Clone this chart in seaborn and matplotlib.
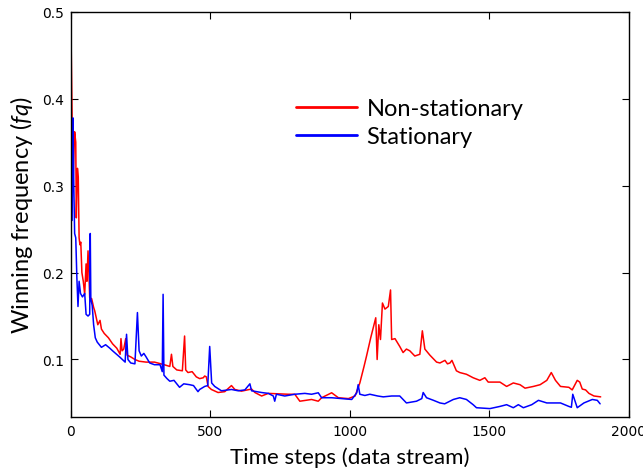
import numpy as np
import pandas as pd
import matplotlib
matplotlib.use("Agg")
import matplotlib.pyplot as plt
import seaborn as sns

# ---- data ----
t_nonstat = [0, 4, 8, 12, 14, 18, 20, 24, 27, 30, 33, 36, 40, 45, 50, 55, 58, 62, 65, 68,
             75, 82, 86, 90, 97, 105, 110, 120, 135, 150, 165, 177, 180, 184, 190, 197, 202,
             215, 230, 245, 270, 300, 335, 355, 361, 366, 380, 400, 408, 412, 420, 435, 450,
             462, 475, 480, 486, 492, 504, 528, 552, 576, 588, 612, 648, 660, 684, 708, 743,
             779, 803, 821, 863, 887, 899, 935, 959, 995, 1019, 1036, 1051, 1060,
             1075, 1093, 1098, 1104, 1110, 1117, 1126, 1138, 1146, 1150, 1162, 1179, 1191,
             1203, 1215, 1233, 1251, 1260, 1269, 1287, 1311, 1323, 1341, 1350, 1359, 1366,
             1382, 1394, 1418, 1442, 1466, 1484, 1496, 1520, 1538, 1562, 1586, 1610, 1628,
             1658, 1682, 1706, 1722, 1737, 1755, 1785, 1797, 1815, 1824, 1833, 1845, 1857,
             1875, 1899]
fq_nonstat = [0.50, 0.40, 0.30, 0.34, 0.362, 0.35, 0.263, 0.32, 0.31, 0.24, 0.232, 0.235,
              0.20, 0.19, 0.175, 0.21, 0.19, 0.225, 0.20, 0.171, 0.17, 0.16, 0.156, 0.15,
              0.14, 0.145, 0.135, 0.13, 0.125, 0.118, 0.113, 0.106, 0.124, 0.11, 0.112, 0.124,
              0.105, 0.103, 0.100, 0.098, 0.097, 0.097, 0.094, 0.092, 0.106, 0.092, 0.088,
              0.087, 0.127, 0.088, 0.085, 0.086, 0.080, 0.078, 0.079, 0.081, 0.080, 0.069,
              0.0655, 0.062, 0.063, 0.070, 0.0655, 0.0636, 0.066, 0.062, 0.058, 0.061, 0.0605,
              0.060, 0.060, 0.052, 0.054, 0.052, 0.056, 0.0617, 0.056, 0.055, 0.058, 0.073,
              0.092, 0.104, 0.125, 0.148, 0.100, 0.140, 0.123, 0.165, 0.158,
              0.161, 0.180, 0.123, 0.124, 0.115, 0.108, 0.112, 0.110, 0.104, 0.106, 0.133,
              0.112, 0.105, 0.097, 0.096, 0.099, 0.095, 0.096, 0.099,
              0.087, 0.085, 0.083, 0.079, 0.076, 0.079, 0.074, 0.074, 0.074, 0.069, 0.073,
              0.071, 0.067, 0.069, 0.071, 0.076, 0.085, 0.076, 0.069, 0.068, 0.065, 0.076,
              0.074, 0.066, 0.065, 0.061, 0.058, 0.057]

t_stat = [0, 2, 5, 8, 11, 14, 18, 22, 26, 30, 35, 42, 50, 55, 62, 68, 70, 72, 77, 82, 88,
          95, 110, 125, 140, 150, 175, 195, 200, 205, 215, 230, 239, 245, 253, 262, 270, 283,
          300, 320, 328, 331, 334, 345, 355, 370, 390, 405, 426, 440, 456, 462, 480, 491, 498,
          505, 516, 540, 576, 600, 624, 642, 648, 684, 708, 726, 731, 737, 767, 803, 839, 863,
          887, 899, 935, 971, 1007, 1025, 1030, 1036, 1054, 1072, 1100, 1120, 1150, 1179,
          1203, 1239, 1258, 1263, 1275, 1300, 1323, 1340, 1371, 1394, 1418, 1442, 1454, 1502,
          1538, 1562, 1586, 1604, 1622, 1652, 1676, 1706, 1755, 1785, 1794, 1799, 1815, 1839,
          1869, 1887, 1897]
fq_stat = [0.27, 0.378, 0.26, 0.378, 0.30, 0.245, 0.24, 0.194, 0.161, 0.19, 0.176, 0.172,
           0.176, 0.152, 0.150, 0.152, 0.245, 0.17, 0.162, 0.14, 0.125, 0.12, 0.114, 0.117,
           0.113, 0.110, 0.103, 0.097, 0.129, 0.10, 0.096, 0.095, 0.154, 0.110, 0.104, 0.107,
           0.103, 0.096, 0.094, 0.094, 0.086, 0.175, 0.082, 0.078, 0.075, 0.076, 0.068, 0.072,
           0.071, 0.070, 0.063, 0.0655, 0.069, 0.070, 0.115, 0.073, 0.069, 0.064, 0.0655,
           0.064, 0.065, 0.072, 0.064, 0.062, 0.061, 0.058, 0.052, 0.060, 0.058, 0.060, 0.061,
           0.060, 0.0617, 0.056, 0.056, 0.055, 0.054, 0.0617, 0.071, 0.060, 0.0586, 0.060,
           0.058, 0.057, 0.058, 0.058, 0.050, 0.052, 0.055, 0.062, 0.056, 0.053, 0.050, 0.049,
           0.054, 0.056, 0.054, 0.048, 0.0445, 0.0435, 0.046, 0.048, 0.0445, 0.048, 0.0445,
           0.048, 0.053, 0.050, 0.050, 0.046, 0.045, 0.060, 0.0445, 0.050, 0.054, 0.053, 0.049]

series_names = ["Non-stationary", "Stationary"]
x_ticks = [0, 500, 1000, 1500, 2000]
y_ticks = [0.1, 0.2, 0.3, 0.4, 0.5]

df = pd.concat([
    pd.DataFrame({"t": t_nonstat, "fq": fq_nonstat, "series": series_names[0]}),
    pd.DataFrame({"t": t_stat, "fq": fq_stat, "series": series_names[1]}),
], ignore_index=True)

sns.set_style("ticks")
plt.rcParams["font.family"] = ["DejaVu Sans"]
plt.rcParams["text.color"] = "black"
plt.rcParams["axes.labelcolor"] = "black"
plt.rcParams["mathtext.fontset"] = "custom"
plt.rcParams["mathtext.it"] = "Lato:italic"
plt.rcParams["mathtext.rm"] = "Lato"

fig = plt.figure(figsize=(6.43, 4.77), dpi=100)
ax = fig.add_axes([0.110, 0.124, 0.868, 0.849])

sns.lineplot(data=df, x="t", y="fq", hue="series",
             palette={"Non-stationary": "#ff0000", "Stationary": "#0000ff"},
             estimator=None, sort=False, linewidth=1.1, ax=ax, legend=True)

ax.set_xlim(0, 2000)
ax.set_ylim(0.034, 0.5)
ax.set_xticks(x_ticks)
ax.set_yticks(y_ticks)
ax.set_xticklabels([str(v) for v in x_ticks])
ax.set_yticklabels([f"{v:.1f}" for v in y_ticks])
ax.tick_params(direction="in", length=5, width=0.8, top=True, right=True, labelsize=10,
               colors="black", pad=5)
for s in ax.spines.values():
    s.set_visible(True)
    s.set_color("black")
    s.set_linewidth(1.0)

ax.set_xlabel("Time steps (data stream)", fontsize=16, family="Lato", labelpad=6, color="black")
ax.set_ylabel(r"Winning frequency ($fq$)", fontsize=17, family="Lato", labelpad=5, color="black")

handles, labels = ax.get_legend_handles_labels()
for h in handles:
    h.set_linewidth(2)
leg = ax.legend(handles, labels, loc="center left", bbox_to_anchor=(0.403, 0.726), frameon=False,
                prop={"family": "Lato", "size": 17}, handlelength=2.6, handletextpad=0.4,
                borderpad=0, borderaxespad=0, labelspacing=0.3)
for txt in leg.get_texts():
    txt.set_color("black")

fig.savefig("out.png", dpi=100)
